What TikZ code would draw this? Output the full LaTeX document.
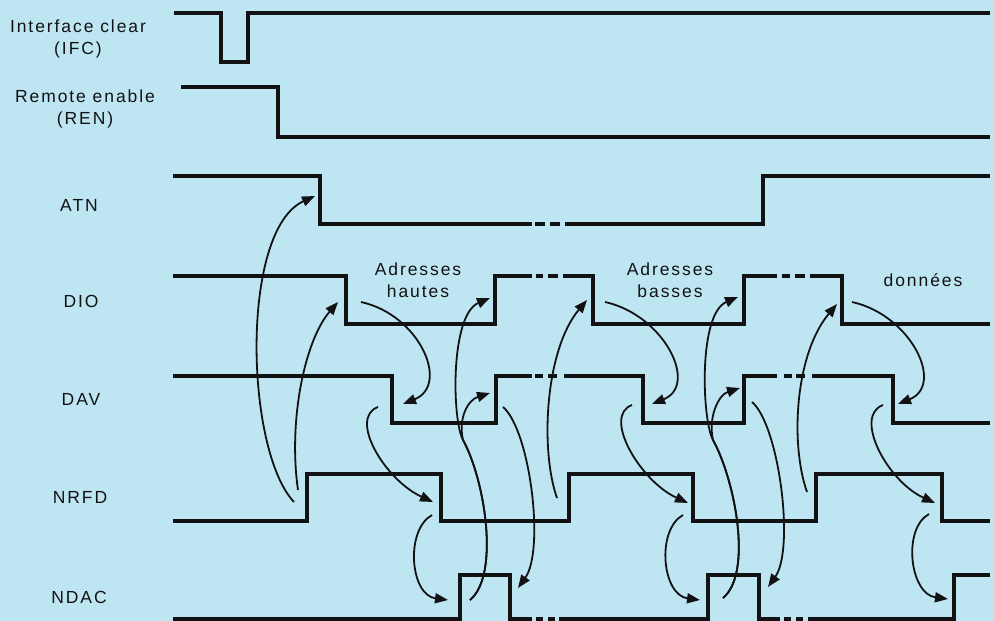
\documentclass[tikz,border=0pt]{standalone}
\usepackage{fontspec}
\setmainfont{Liberation Sans}[LetterSpace=11]
\usetikzlibrary{arrows.meta}
\definecolor{bg}{RGB}{190,229,242}
\definecolor{ink}{RGB}{18,18,20}
\begin{document}
\begin{tikzpicture}[x=1pt,y=-1pt,
  sig/.style={line width=3.4pt,draw=ink,line join=miter},
  hs/.style={line width=1.8pt,draw=ink,-{Triangle[length=13pt,width=10pt]}},
  lab/.style={font=\fontsize{17.5}{22}\selectfont,text=ink,align=center,inner sep=0pt}]
\fill[bg] (0,0) rectangle (994,621);
\useasboundingbox (0,0) rectangle (994,621);

% labels
\node[lab] (lifc) at (78,39) {Interface clear\\(IFC)};
\node[lab] (lren) at (85,109) {Remote enable\\(REN)};
\node[lab] (latn) at (79,205) {ATN};
\node[lab] (ldio) at (81,301) {DIO};
\node[lab] (ldav) at (81,399) {DAV};
\node[lab] (lnrfd) at (80,497) {NRFD};
\node[lab] (lndac) at (79,597) {NDAC};
\node[lab] (lhaut) at (418,280) {Adresses\\hautes};
\node[lab] (lbas) at (670,280) {Adresses\\basses};
\node[lab] (ldon) at (923,280) {données};

% signals
\draw[sig] (174,13) -- (221,13) -- (221,62) -- (248,62) -- (248,13) -- (990,13);
\draw[sig] (181,87) -- (278,87) -- (278,137) -- (990,137);
% ATN
\draw[sig] (173,176) -- (320,176) -- (320,224) -- (532,224);
\draw[sig] (535,224) -- (545,224);
\draw[sig] (550,224) -- (560,224);
\draw[sig] (565,224) -- (763,224) -- (763,176) -- (990,176);
% DIO
\draw[sig] (173,276) -- (346,276) -- (346,324) -- (495,324) -- (495,276) -- (532,276);
\draw[sig] (536,276) -- (543,276);
\draw[sig] (548,276) -- (558,276);
\draw[sig] (563,276) -- (593,276) -- (593,324) -- (744,324) -- (744,276) -- (777,276);
\draw[sig] (782,276) -- (790,276);
\draw[sig] (795,276) -- (805,276);
\draw[sig] (810,276) -- (842,276) -- (842,324) -- (990,324);
% DAV
\draw[sig] (173,376) -- (392,376) -- (392,423) -- (496,423) -- (496,376) -- (532,376);
\draw[sig] (535,376) -- (543,376);
\draw[sig] (548,376) -- (557,376);
\draw[sig] (564,376) -- (643,376) -- (643,423) -- (744,423) -- (744,376) -- (777,376);
\draw[sig] (784,376) -- (792,376);
\draw[sig] (796,376) -- (805,376);
\draw[sig] (812,376) -- (893,376) -- (893,423) -- (990,423);
% NRFD
\draw[sig] (173,521) -- (307,521) -- (307,474) -- (441,474) -- (441,521) -- (569,521) -- (569,474) -- (693,474) -- (693,521) -- (816,521) -- (816,474) -- (942,474) -- (942,521) -- (990,521);
% NDAC
\draw[sig] (173,619) -- (460,619) -- (460,575) -- (510,575) -- (510,619) -- (532,619);
\draw[sig] (536,619) -- (543,619);
\draw[sig] (548,619) -- (555,619);
\draw[sig] (559,619) -- (708,619) -- (708,575) -- (759,575) -- (759,619) -- (780,619);
\draw[sig] (784,619) -- (791,619);
\draw[sig] (796,619) -- (803,619);
\draw[sig] (808,619) -- (954,619) -- (954,575) -- (990,575);

% handshake coordinates
\coordinate (s1) at (294,502); \coordinate (t1) at (315,196);
\coordinate (s2) at (298,490); \coordinate (t2) at (338,302);
\coordinate (s3) at (361,302); \coordinate (t3) at (403,404);
\coordinate (s4) at (378,407); \coordinate (t4) at (433,502);
\coordinate (s5) at (432,515); \coordinate (t5) at (448,600);
\coordinate (s6) at (470,600); \coordinate (m6) at (463,440);
\coordinate (t6a) at (490,298); \coordinate (t6b) at (490,393);
\coordinate (s7) at (503,407); \coordinate (t7) at (518,588);
\coordinate (s8) at (557,498); \coordinate (t8) at (587,300);
\coordinate (s9) at (605,302); \coordinate (t9) at (652,404);
\coordinate (s10) at (632,405); \coordinate (t10) at (688,503);
\coordinate (s11) at (683,515); \coordinate (t11) at (700,600);
\coordinate (s12) at (723,598); \coordinate (m12) at (713,440);
\coordinate (t12a) at (738,297); \coordinate (t12b) at (740,388);
\coordinate (s13) at (752,402); \coordinate (t13) at (768,587);
\coordinate (s14) at (807,492); \coordinate (t14) at (837,304);
\coordinate (s15) at (852,302); \coordinate (t15) at (898,404);
\coordinate (s16) at (883,405); \coordinate (t16) at (935,503);
\coordinate (s17) at (929,514); \coordinate (t17) at (948,599);

% handshake arrows
\draw[hs] (s1) .. controls +(-49,-52) and +(-75,34) .. (t1);
\draw[hs] (s2) .. controls +(-10,-70) and +(-33,38) .. (t2);
\draw[hs] (s3) .. controls +(59,13) and +(47,-19) .. (t3);
\draw[hs] (s4) .. controls +(-30,11) and +(-48,-22) .. (t4);
\draw[hs] (s5) .. controls +(-27,15) and +(-38,-5) .. (t5);
\draw[hs] (s6) .. controls +(30,-25) and +(22,40) .. (m6) .. controls +(-11,-20) and +(-40,17) .. (t6a);
\draw[hs] (s6) .. controls +(30,-25) and +(22,40) .. (m6) .. controls +(-5,-22) and +(-22,7) .. (t6b);
\draw[hs] (s7) .. controls +(27,23) and +(27,-38) .. (t7);
\draw[hs] (s8) .. controls +(-17,-48) and +(-42,50) .. (t8);
\draw[hs] (s9) .. controls +(59,13) and +(47,-19) .. (t9);
\draw[hs] (s10) .. controls +(-30,11) and +(-48,-22) .. (t10);
\draw[hs] (s11) .. controls +(-27,15) and +(-38,-5) .. (t11);
\draw[hs] (s12) .. controls +(30,-25) and +(22,40) .. (m12) .. controls +(-11,-20) and +(-40,17) .. (t12a);
\draw[hs] (s12) .. controls +(30,-25) and +(22,40) .. (m12) .. controls +(-5,-22) and +(-22,7) .. (t12b);
\draw[hs] (s13) .. controls +(27,23) and +(27,-38) .. (t13);
\draw[hs] (s14) .. controls +(-17,-48) and +(-42,50) .. (t14);
\draw[hs] (s15) .. controls +(59,13) and +(47,-19) .. (t15);
\draw[hs] (s16) .. controls +(-30,11) and +(-48,-22) .. (t16);
\draw[hs] (s17) .. controls +(-27,15) and +(-38,-5) .. (t17);
\end{tikzpicture}
\end{document}
